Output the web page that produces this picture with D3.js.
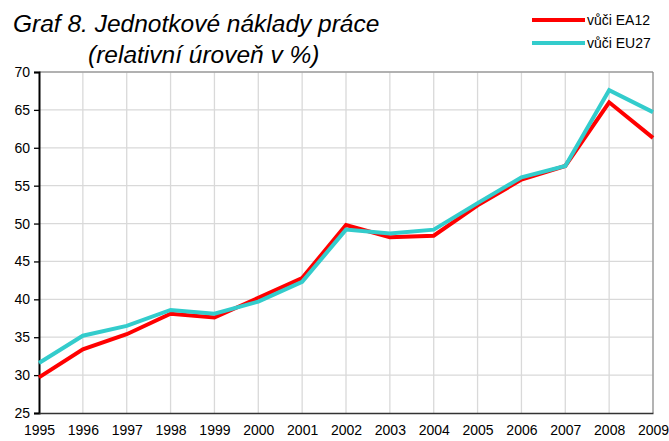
<!DOCTYPE html>
<html lang="cs">
<head>
<meta charset="UTF-8"/>
<title>Graf 8</title>
<script src="https://d3js.org/d3.v7.min.js"></script>
<style>
  body { margin: 0; background: #fff; }
  text { font-family: "Liberation Sans", Arial, sans-serif; fill: #000; }
</style>
</head>
<body>
<div id="chart"></div>
<script>
  // Data
  var years = [1995, 1996, 1997, 1998, 1999, 2000, 2001, 2002, 2003, 2004, 2005, 2006, 2007, 2008, 2009];
  var ea12 = [29.7, 33.4, 35.4, 38.1, 37.6, 40.2, 42.8, 49.8, 48.2, 48.4, 52.4, 55.8, 57.6, 66.0, 61.3];
  var eu27 = [31.6, 35.2, 36.5, 38.6, 38.1, 39.7, 42.3, 49.2, 48.7, 49.2, 52.7, 56.1, 57.6, 67.6, 64.7];
  var yTicks = [25, 30, 35, 40, 45, 50, 55, 60, 65, 70];
  var seriesNames = ["vůči EA12", "vůči EU27"];

  var w = 669, h = 441;
  // plot area
  var pLeft = 39, pRight = 653, pTop = 72, pBottom = 413;

  var svg = d3.select("#chart").append("svg")
    .attr("width", w).attr("height", h);

  var x = d3.scaleLinear().domain([1995, 2009]).range([pLeft, pRight]);
  var y = d3.scaleLinear().domain([25, 70]).range([pBottom, pTop]);

  // grid
  svg.append("g").selectAll("line")
    .data(yTicks.slice(1))
    .enter().append("line")
    .attr("x1", pLeft).attr("x2", pRight)
    .attr("y1", function(d){ return y(d); }).attr("y2", function(d){ return y(d); })
    .attr("stroke", "#d9d9d9").attr("stroke-width", 1.3);
  svg.append("g").selectAll("line")
    .data(years.slice(1))
    .enter().append("line")
    .attr("x1", function(d){ return x(d); }).attr("x2", function(d){ return x(d); })
    .attr("y1", pTop).attr("y2", pBottom)
    .attr("stroke", "#d9d9d9").attr("stroke-width", 1.3);

  // frame
  svg.append("line").attr("x1", pLeft).attr("x2", pRight).attr("y1", pTop).attr("y2", pTop)
    .attr("stroke", "#808080").attr("stroke-width", 1);
  svg.append("line").attr("x1", pRight).attr("x2", pRight).attr("y1", pTop).attr("y2", pBottom)
    .attr("stroke", "#808080").attr("stroke-width", 1);

  // y axis
  var yAxis = d3.axisLeft(y).tickValues(yTicks).tickSize(5).tickPadding(4);
  var gy = svg.append("g").attr("transform", "translate(" + pLeft + ",0)").call(yAxis);
  gy.select(".domain").attr("stroke", "#000").attr("stroke-width", 2);
  gy.selectAll(".tick line").attr("stroke", "#000").attr("stroke-width", 1.3);
  gy.selectAll("text").style("font-size", "14px");

  // x axis
  var xAxis = d3.axisBottom(x).tickValues(years).tickFormat(d3.format("d")).tickSize(0).tickPadding(12);
  var gx = svg.append("g").attr("transform", "translate(0," + pBottom + ")").call(xAxis);
  gx.select(".domain").attr("stroke", "#333").attr("stroke-width", 1.5);
  gx.selectAll("text").style("font-size", "14px");

  // lines
  var line = d3.line()
    .x(function(d, i){ return x(years[i]); })
    .y(function(d){ return y(d); });

  svg.append("path").datum(ea12)
    .attr("d", line).attr("fill", "none")
    .attr("stroke", "#ff0000").attr("stroke-width", 4);
  svg.append("path").datum(eu27)
    .attr("d", line).attr("fill", "none")
    .attr("stroke", "#33cccc").attr("stroke-width", 4);

  // title
  svg.append("text").attr("x", 13).attr("y", 32)
    .style("font-size", "24.5px").style("font-style", "italic")
    .text("Graf 8. Jednotkové náklady práce");
  svg.append("text").attr("x", 88).attr("y", 63)
    .style("font-size", "24.5px").style("font-style", "italic")
    .text("(relativní úroveň v %)");

  // legend
  var colors = ["#ff0000", "#33cccc"];
  var leg = svg.append("g");
  seriesNames.forEach(function(name, i){
    var ly = 20 + i * 23;
    leg.append("line").attr("x1", 532).attr("x2", 585).attr("y1", ly).attr("y2", ly)
      .attr("stroke", colors[i]).attr("stroke-width", 4);
    leg.append("text").attr("x", 587).attr("y", ly + 5)
      .style("font-size", "14px")
      .text(name);
  });
</script>
</body>
</html>
